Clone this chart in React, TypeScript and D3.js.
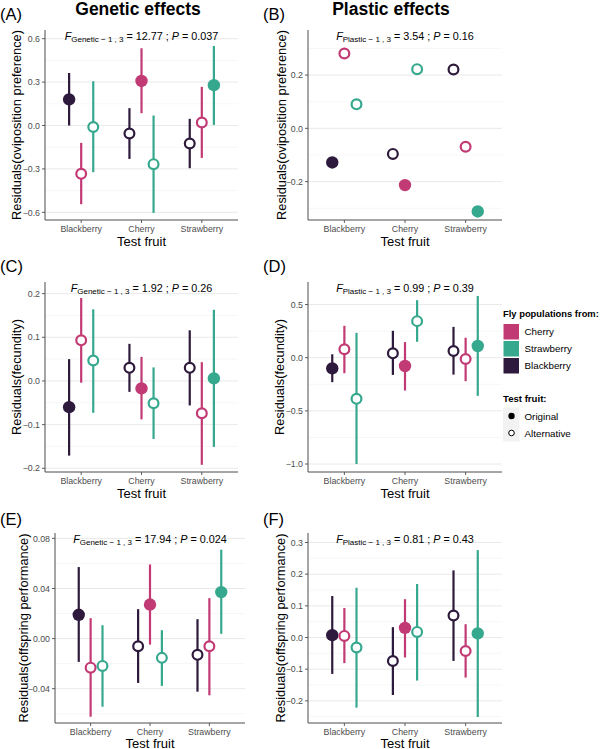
import React from "react";
import * as d3 from "d3";

// ---------- data ----------
const testFruits = ["Blackberry", "Cherry", "Strawberry"];
const populations = ["Blackberry", "Cherry", "Strawberry"]; // dodge order
const popColors = ["#2e1a3c", "#c23a74", "#36a88e"];
const legendPops = ["Cherry", "Strawberry", "Blackberry"];

// [testFruit][population]
const ovipGenEst = [[0.18, -0.334, -0.01], [-0.055, 0.308, -0.267], [-0.124, 0.021, 0.279]];
const ovipGenLo = [[0.0, -0.544, -0.323], [-0.231, 0.085, -0.604], [-0.295, -0.224, 0.004]];
const ovipGenHi = [[0.363, -0.12, 0.306], [0.12, 0.534, 0.069], [0.046, 0.267, 0.55]];

const ovipPlaEst = [[-0.128, 0.281, 0.09], [-0.096, -0.213, 0.222], [0.221, -0.069, -0.312]];

const fecGenEst = [[-0.06, 0.093, 0.047], [0.03, -0.017, -0.051], [0.03, -0.074, 0.006]];
const fecGenLo = [[-0.171, -0.004, -0.073], [-0.025, -0.088, -0.133], [-0.056, -0.192, -0.151]];
const fecGenHi = [[0.05, 0.19, 0.164], [0.085, 0.055, 0.031], [0.116, 0.043, 0.163]];

const fecPlaEst = [[-0.1, 0.079, -0.387], [0.041, -0.078, 0.344], [0.063, -0.012, 0.11]];
const fecPlaLo = [[-0.23, -0.146, -1.0], [-0.162, -0.309, 0.15], [-0.159, -0.221, -0.359]];
const fecPlaHi = [[0.032, 0.3, 0.234], [0.253, 0.147, 0.541], [0.29, 0.188, 0.58]];

const offGenEst = [[0.019, -0.0232, -0.0218], [-0.0061, 0.0272, -0.0154], [-0.013, -0.0061, 0.0371]];
const offGenLo = [[-0.0186, -0.0624, -0.0544], [-0.0354, -0.0048, -0.0378], [-0.0424, -0.0453, 0.0038]];
const offGenHi = [[0.0571, 0.0163, 0.0107], [0.0235, 0.0592, 0.0067], [0.0155, 0.0323, 0.071]];

const offPlaEst = [[0.0073, 0.005, -0.0316], [-0.074, 0.0304, 0.0177], [0.0696, -0.0424, 0.0127]];
const offPlaLo = [[-0.115, -0.081, -0.2215], [-0.1816, -0.063, -0.136], [-0.074, -0.1266, -0.251]];
const offPlaHi = [[0.131, 0.093, 0.157], [0.0326, 0.121, 0.169], [0.212, 0.042, 0.276]];

const ticksA = [-0.6, -0.3, 0, 0.3, 0.6];
const ticksB = [-0.2, 0, 0.2];
const ticksC = [-0.2, -0.1, 0, 0.1, 0.2];
const ticksD = [-1.0, -0.5, 0, 0.5];
const ticksE = [-0.04, 0, 0.04, 0.08];
const ticksF = [-0.2, -0.1, 0, 0.1, 0.2, 0.3];

const labelsA = ["\u22120.6", "\u22120.3", "0.0", "0.3", "0.6"];
const labelsB = ["\u22120.2", "0.0", "0.2"];
const labelsC = ["\u22120.2", "\u22120.1", "0.0", "0.1", "0.2"];
const labelsD = ["\u22121.0", "\u22120.5", "0.0", "0.5"];
const labelsE = ["\u22120.04", "0.00", "0.04", "0.08"];
const labelsF = ["\u22120.2", "\u22120.1", "0.0", "0.1", "0.2", "0.3"];

const statsF = ["12.77", "3.54", "1.92", "0.99", "17.94", "0.81"];
const statsP = ["0.037", "0.16", "0.26", "0.39", "0.024", "0.43"];

// ---------- layout ----------
const panels = [
  { tag: "(A)", eff: "Genetic", ylab: "Residuals(oviposition preference)", est: ovipGenEst, lo: ovipGenLo, hi: ovipGenHi, ticks: ticksA, labels: labelsA, F: statsF[0], P: statsP[0], l: 45, r: 238, t: 30, b: 220, dom: [-0.653, 0.66], ylx: 16, tagx: 0, tagy: 20, annY: 40, xtY: 246 },
  { tag: "(B)", eff: "Plastic", ylab: "Residuals(oviposition preference)", est: ovipPlaEst, lo: null, hi: null, ticks: ticksB, labels: labelsB, F: statsF[1], P: statsP[1], l: 308, r: 502, t: 30, b: 220, dom: [-0.344, 0.369], ylx: 281, tagx: 263, tagy: 20, annY: 40, xtY: 246 },
  { tag: "(C)", eff: "Genetic", ylab: "Residuals(fecundity)", est: fecGenEst, lo: fecGenLo, hi: fecGenHi, ticks: ticksC, labels: labelsC, F: statsF[2], P: statsP[2], l: 45, r: 238, t: 282, b: 472, dom: [-0.2085, 0.2266], ylx: 16, tagx: 0, tagy: 272, annY: 292, xtY: 497.5 },
  { tag: "(D)", eff: "Plastic", ylab: "Residuals(fecundity)", est: fecPlaEst, lo: fecPlaLo, hi: fecPlaHi, ticks: ticksD, labels: labelsD, F: statsF[3], P: statsP[3], l: 308, r: 502, t: 282, b: 472, dom: [-1.075, 0.712], ylx: 279, tagx: 263, tagy: 272, annY: 292, xtY: 497.5 },
  { tag: "(E)", eff: "Genetic", ylab: "Residuals(offspring performance)", est: offGenEst, lo: offGenLo, hi: offGenHi, ticks: ticksE, labels: labelsE, F: statsF[4], P: statsP[4], l: 55, r: 245, t: 533, b: 723, dom: [-0.0674, 0.0843], ylx: 23, tagx: 0, tagy: 525, annY: 543, xtY: 747.5 },
  { tag: "(F)", eff: "Plastic", ylab: "Residuals(offspring performance)", est: offPlaEst, lo: offPlaLo, hi: offPlaHi, ticks: ticksF, labels: labelsF, F: statsF[5], P: statsP[5], l: 308, r: 502, t: 533, b: 723, dom: [-0.27, 0.33], ylx: 280, tagx: 263, tagy: 525, annY: 543, xtY: 747.5 },
];

const FONT = "'Liberation Sans', Arial, Helvetica, sans-serif";

function Panel({ p }: { p: any }) {
  const x = d3.scalePoint<string>().domain(testFruits).range([p.l, p.r]).padding(0.6);
  const y = d3.scaleLinear().domain(p.dom).range([p.b, p.t]);
  const step = x.step();
  const dodge = step * 0.2;
  const d = p.ticks[1] - p.ticks[0];
  const minor: number[] = [p.ticks[0] - d / 2, ...p.ticks.map((t: number) => t + d / 2)];
  const minorIn = minor.filter((m) => y(m) >= p.t && y(m) <= p.b);
  const pts: any[] = [];
  testFruits.forEach((f, fi) => {
    populations.forEach((pop, pi) => {
      pts.push({
        cx: (x(f) as number) + (pi - 1) * dodge,
        est: p.est[fi][pi],
        lo: p.lo ? p.lo[fi][pi] : null,
        hi: p.hi ? p.hi[fi][pi] : null,
        color: popColors[pi],
        original: f === pop,
      });
    });
  });
  const cx = x("Cherry") as number;
  return (
    <g>
      {minorIn.map((m, i) => (
        <line key={"mi" + i} x1={p.l} x2={p.r} y1={y(m)} y2={y(m)} stroke="#f2f2f2" strokeWidth={0.6} />
      ))}
      {p.ticks.map((t: number, i: number) => (
        <line key={"ma" + i} x1={p.l} x2={p.r} y1={y(t)} y2={y(t)} stroke="#e6e6e6" strokeWidth={0.9} />
      ))}
      <line x1={p.l} x2={p.l} y1={p.t} y2={p.b} stroke="#4d4d4d" strokeWidth={1} />
      <line x1={p.l} x2={p.r} y1={p.b} y2={p.b} stroke="#4d4d4d" strokeWidth={1} />
      {p.ticks.map((t: number, i: number) => (
        <g key={"yt" + i}>
          <line x1={p.l - 3} x2={p.l} y1={y(t)} y2={y(t)} stroke="#4d4d4d" strokeWidth={0.9} />
          <text x={p.l - 5} y={y(t) + 3.2} textAnchor="end" fontSize={8.8} fill="#4d4d4d" fontFamily={FONT}>{p.labels[i]}</text>
        </g>
      ))}
      {testFruits.map((f) => (
        <g key={"xt" + f}>
          <line x1={x(f)} x2={x(f)} y1={p.b} y2={p.b + 3} stroke="#4d4d4d" strokeWidth={0.9} />
          <text x={x(f)} y={p.b + 12} textAnchor="middle" fontSize={8.8} fill="#4d4d4d" fontFamily={FONT}>{f}</text>
        </g>
      ))}
      <text x={(p.l + p.r) / 2} y={p.xtY} textAnchor="middle" fontSize={13} fill="#000" fontFamily={FONT}>Test fruit</text>
      <text transform={`translate(${p.ylx},${(p.t + p.b) / 2}) rotate(-90)`} y={4.5} textAnchor="middle" fontSize={12.8} fill="#000" fontFamily={FONT}>{p.ylab}</text>
      <text x={p.tagx} y={p.tagy} fontSize={16.5} fill="#000" fontFamily={FONT}>{p.tag}</text>
      <text x={cx} y={p.annY} textAnchor="middle" fontSize={10.8} fill="#000" fontFamily={FONT}>
        <tspan fontStyle="italic">F</tspan>
        <tspan fontSize={8} dy={2}>{p.eff + " \u2212 1 , 3"}</tspan>
        <tspan dy={-2}>{" = " + p.F + " ; "}</tspan>
        <tspan fontStyle="italic">P</tspan>
        <tspan>{" = " + p.P}</tspan>
      </text>
      {pts.map((d, i) =>
        d.lo !== null ? (
          <line key={"eb" + i} x1={d.cx} x2={d.cx} y1={y(d.lo)} y2={y(d.hi)} stroke={d.color} strokeWidth={2.2} />
        ) : null
      )}
      {pts.map((d, i) =>
        d.original ? (
          <circle key={"pt" + i} cx={d.cx} cy={y(d.est)} r={6.2} fill={d.color} />
        ) : (
          <circle key={"pt" + i} cx={d.cx} cy={y(d.est)} r={4.9} fill="#ffffff" stroke={d.color} strokeWidth={2.2} />
        )
      )}
    </g>
  );
}

function Legend() {
  const lx = 503;
  return (
    <g fontFamily={FONT}>
      <text x={lx} y={317} fontSize={9.4} fontWeight="bold" fill="#000">Fly populations from:</text>
      {legendPops.map((pop, i) => {
        const c = popColors[populations.indexOf(pop)];
        const ky = 323.5 + i * 17;
        return (
          <g key={pop}>
            <rect x={lx} y={ky} width={16.5} height={16.5} fill={c} stroke="#ffffff" strokeWidth={1} />
            <text x={lx + 21.5} y={ky + 11.8} fontSize={9.8} fill="#000">{pop}</text>
          </g>
        );
      })}
      <text x={lx} y={402} fontSize={9.6} fontWeight="bold" fill="#000">Test fruit:</text>
      <rect x={lx} y={407.5} width={16.5} height={34} fill="#f2f2f2" />
      <circle cx={lx + 8.5} cy={416} r={3.2} fill="#000" />
      <circle cx={lx + 8.5} cy={433} r={2.8} fill="#fff" stroke="#000" strokeWidth={1} />
      <text x={lx + 21.5} y={419.5} fontSize={9.8} fill="#000">Original</text>
      <text x={lx + 21.5} y={436.5} fontSize={9.8} fill="#000">Alternative</text>
    </g>
  );
}

export default function App() {
  return (
    <div style={{ position: "absolute", left: 0, top: 0 }}>
      <svg width={600} height={749} viewBox="0 0 600 749" style={{ display: "block", background: "#fff" }}>
        <rect width={600} height={749} fill="#fff" />
        <text x={138} y={15} textAnchor="middle" fontSize={17.5} fontWeight="bold" fontFamily={FONT}>Genetic effects</text>
        <text x={391} y={15} textAnchor="middle" fontSize={17.5} fontWeight="bold" fontFamily={FONT}>Plastic effects</text>
        {panels.map((p, i) => (
          <Panel key={i} p={p} />
        ))}
        <Legend />
      </svg>
    </div>
  );
}
